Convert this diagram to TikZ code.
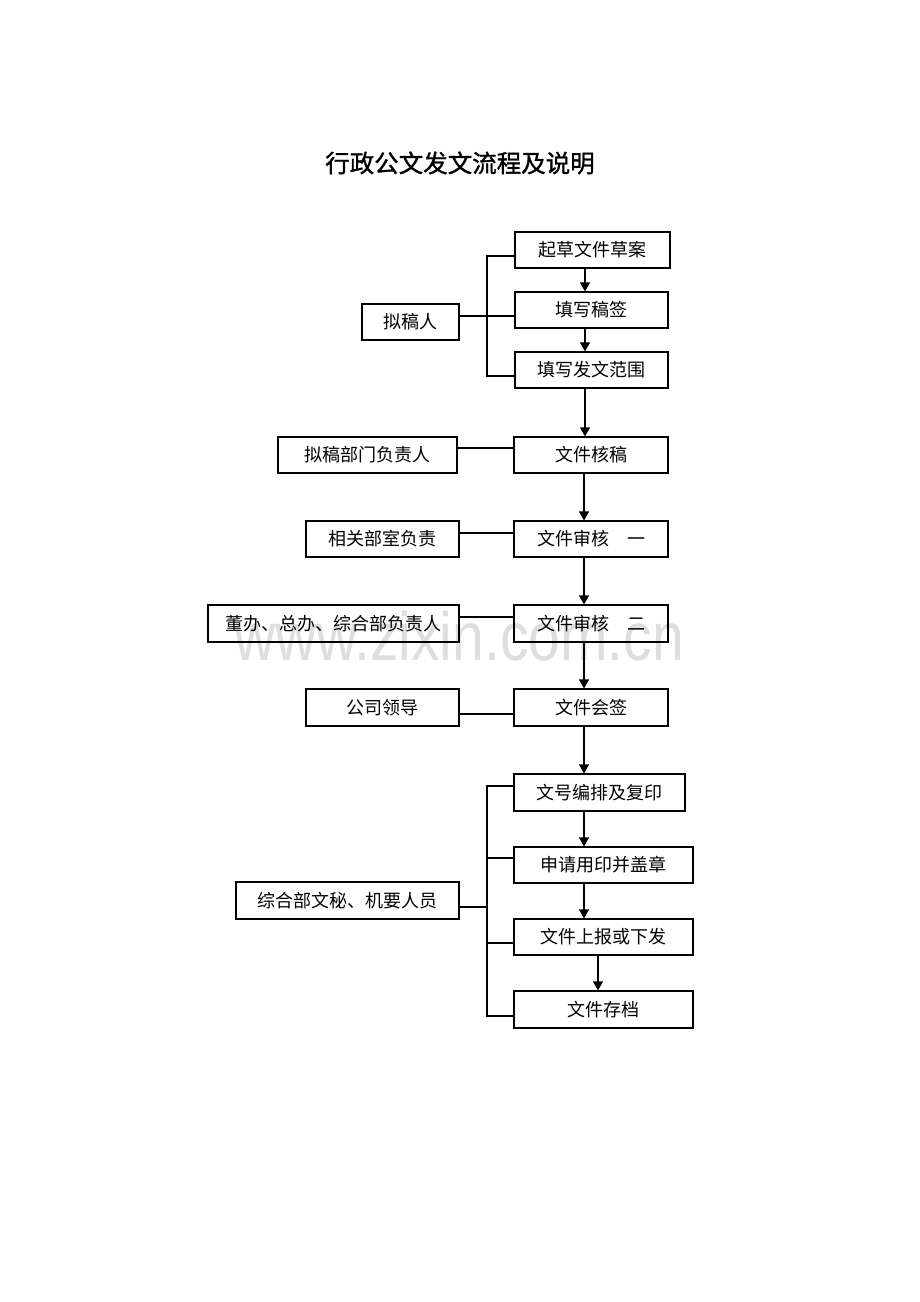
\documentclass[tikz,border=0pt]{standalone}
\usepackage{fontspec}
\newfontfamily\cjk{Noto Sans CJK SC}
\newfontfamily\cjktitle[FakeBold=1.2]{Noto Sans CJK SC}
\newfontfamily\wmfont{Liberation Sans}
\usetikzlibrary{arrows.meta}
\begin{document}
\begin{tikzpicture}[x=1pt,y=-1pt,
  box/.style={draw=black,line width=1.2pt,inner sep=0pt,minimum height=36pt,
    font=\cjk\fontsize{18}{18}\selectfont},
  link/.style={draw=black,line width=1.2pt},
  arr/.style={link,-{Triangle[length=9pt,width=10pt]}}]
\fill[white] (0,0) rectangle (920,1302);
\useasboundingbox (0,0) rectangle (920,1302);
% watermark
\node[text=black!13,font=\wmfont\fontsize{57}{57}\selectfont,anchor=base,inner sep=0pt] (wm) at (459,660) {\scalebox{1}[1.2]{www.zixin.com.cn}};
% title
\node[font=\cjktitle\fontsize{24.5}{25}\selectfont] (title) at (460,163) {行政公文发文流程及说明};
% group 1
\node[box,minimum width=155pt] (a1) at (592.5,250) {起草文件草案};
\node[box,minimum width=153pt] (a2) at (591.5,310) {填写稿签};
\node[box,minimum width=153pt] (a3) at (591.5,370) {填写发文范围};
\node[box,minimum width=97pt] (p1) at (410.5,322) {拟稿人};
% main column
\node[box,minimum width=154pt] (b1) at (591,455) {文件核稿};
\node[box,minimum width=154pt] (b2) at (591,539) {文件审核　一};
\node[box,minimum width=154pt,minimum height=37pt] (b3) at (591,623.5) {文件审核　二};
\node[box,minimum width=154pt,minimum height=37pt] (b4) at (591,707.5) {文件会签};
\node[box,minimum width=179pt] (q1) at (367.5,455) {拟稿部门负责人};
\node[box,minimum width=153pt] (q2) at (382.5,539) {相关部室负责};
\node[box,minimum width=251pt,minimum height=37pt] (q3) at (333.5,623.5) {董办、总办、综合部负责人};
\node[box,minimum width=153pt,minimum height=37pt] (q4) at (382.5,707.5) {公司领导};
% group 3
\node[box,minimum width=171pt,minimum height=37pt] (c1) at (599.5,792.5) {文号编排及复印};
\node[box,minimum width=179pt] (c2) at (603.5,865) {申请用印并盖章};
\node[box,minimum width=179pt] (c3) at (603.5,937) {文件上报或下发};
\node[box,minimum width=179pt,minimum height=37pt] (c4) at (603.5,1009.5) {文件存档};
\node[box,minimum width=223pt,minimum height=37pt] (r) at (347.5,900.5) {综合部文秘、机要人员};
% bracket 1
\coordinate (j0) at (487,256);
\coordinate (j1) at (487,316);
\coordinate (j2) at (487,376);
\draw[link] (a1.west |- j0) -- (j0) -- (j2) -- (a3.west |- j2);
\draw[link] (p1.east |- j1) -- (a2.west |- j1);
% arrows col
\coordinate (colA) at (585,0);
\coordinate (colB) at (584,0);
\coordinate (colC) at (598,0);
\draw[arr] (a1.south -| colA) -- (a2.north -| colA);
\draw[arr] (a2.south -| colA) -- (a3.north -| colA);
\draw[arr] (a3.south -| colA) -- (b1.north -| colA);
\draw[arr] (b1.south -| colB) -- (b2.north -| colB);
\draw[arr] (b2.south -| colB) -- (b3.north -| colB);
\draw[arr] (b3.south -| colB) -- (b4.north -| colB);
\draw[arr] (b4.south -| colB) -- (c1.north -| colB);
\draw[arr] (c1.south -| colB) -- (c2.north -| colB);
\draw[arr] (c2.south -| colB) -- (c3.north -| colB);
\draw[arr] (c3.south -| colC) -- (c4.north -| colC);
% side links
\draw[link] ([yshift=7pt]q1.east) -- ([yshift=7pt]q1.east -| b1.west);
\draw[link] ([yshift=6pt]q2.east) -- ([yshift=6pt]q2.east -| b2.west);
\draw[link] ([yshift=6.5pt]q3.east) -- ([yshift=6.5pt]q3.east -| b3.west);
\draw[link] ([yshift=-6.5pt]q4.east) -- ([yshift=-6.5pt]q4.east -| b4.west);
% bracket 3
\coordinate (k1) at (487,786);
\coordinate (k2) at (487,858);
\coordinate (k3) at (487,943);
\coordinate (k4) at (487,1016);
\coordinate (km) at (487,907);
\draw[link] (c1.west |- k1) -- (k1) -- (k4) -- (c4.west |- k4);
\draw[link] (k2) -- (c2.west |- k2);
\draw[link] (k3) -- (c3.west |- k3);
\draw[link] (r.east |- km) -- (km);
\end{tikzpicture}
\end{document}
